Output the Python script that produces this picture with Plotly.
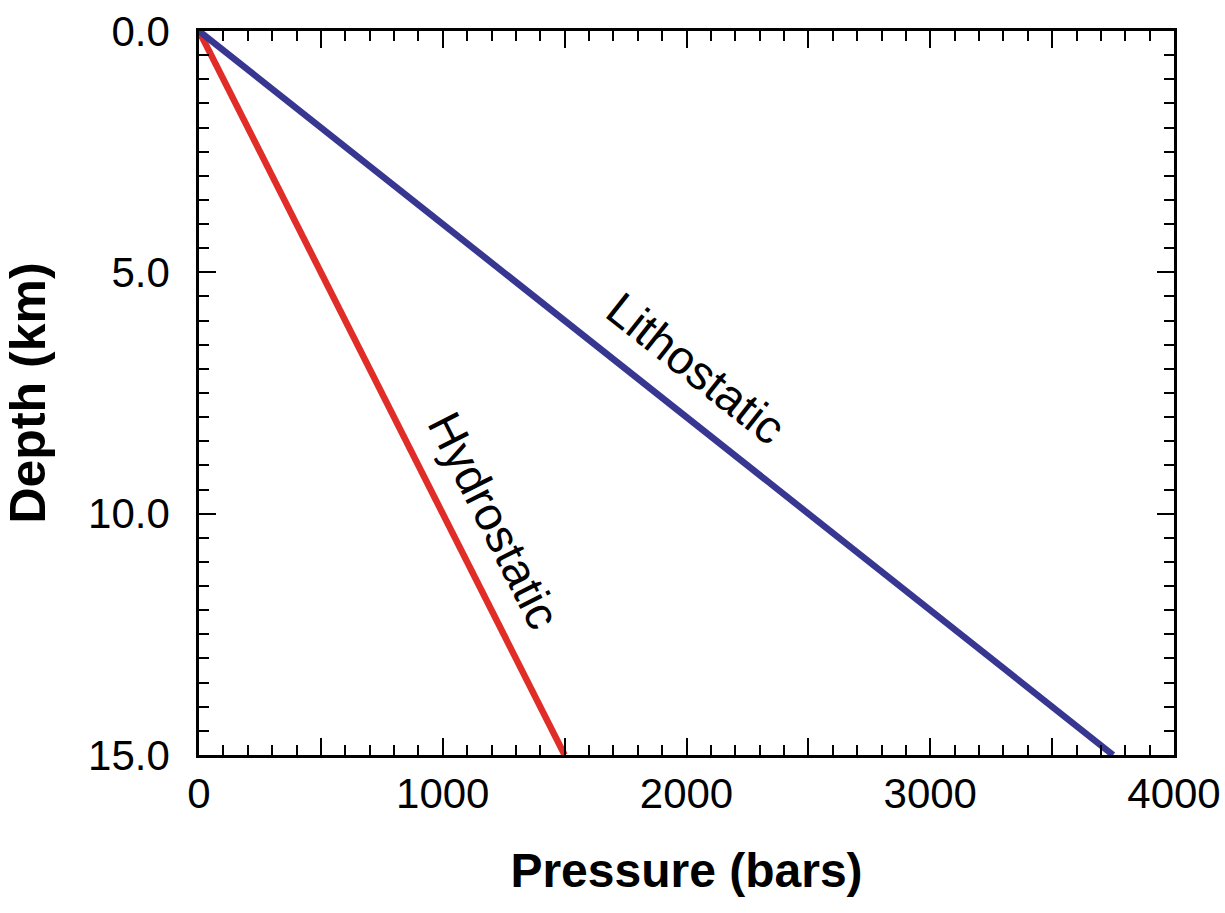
import plotly.graph_objects as go

# Data
depth_km = [0, 15]
hydrostatic_bars = [0, 1500]
lithostatic_bars = [0, 3750]

x_tickvals = [0, 500, 1000, 1500, 2000, 2500, 3000, 3500, 4000]
x_ticktext = ["0", "", "1000", "", "2000", "", "3000", "", "4000"]
y_tickvals = [0, 5, 10, 15]
y_ticktext = ["0.0", "5.0", "10.0", "15.0"]

FONT = "Liberation Sans, Arial, sans-serif"
BLUE = "rgb(55,55,145)"
RED = "rgb(225,45,40)"

fig = go.Figure()
fig.add_trace(go.Scatter(x=hydrostatic_bars, y=depth_km, mode="lines",
                         line=dict(color=RED, width=6.5), showlegend=False))
fig.add_trace(go.Scatter(x=lithostatic_bars, y=depth_km, mode="lines",
                         line=dict(color=BLUE, width=6.5), showlegend=False))

fig.add_annotation(x=2040, y=7.0, text="Lithostatic", showarrow=False,
                   textangle=38.4, font=dict(family=FONT, size=47, color="black"))
fig.add_annotation(x=1210, y=10.15, text="Hydrostatic", showarrow=False,
                   textangle=63.2, font=dict(family=FONT, size=47, color="black"))

axis_common = dict(
    showline=True, linecolor="black", linewidth=2.5, mirror="allticks",
    ticks="inside", tickcolor="black", tickwidth=2, ticklen=17,
    showgrid=False, zeroline=False,
    tickfont=dict(family=FONT, size=42, color="black"),
)

fig.update_xaxes(
    range=[0, 4000], tickmode="array", tickvals=x_tickvals, ticktext=x_ticktext,
    minor=dict(dtick=100, ticks="inside", ticklen=10, tickwidth=2, tickcolor="black", showgrid=False),
    title=dict(text="<b>Pressure (bars)</b>", font=dict(family=FONT, size=48, color="black"), standoff=38),
    ticklabelstandoff=0,
    **axis_common,
)
fig.update_yaxes(
    range=[15, 0], tickmode="array", tickvals=y_tickvals, ticktext=y_ticktext,
    minor=dict(dtick=0.5, ticks="inside", ticklen=10, tickwidth=2, tickcolor="black", showgrid=False),
    title=dict(text="<b>Depth (km)</b>", font=dict(family=FONT, size=50, color="black"), standoff=54),
    ticklabelstandoff=18,
    **axis_common,
)

fig.update_layout(
    width=1225, height=913,
    margin=dict(l=199, r=51, t=31, b=158, autoexpand=False),
    paper_bgcolor="white", plot_bgcolor="white",
)

fig.write_html("out.html", config={"displayModeBar": False},
               post_script="document.body.style.margin='0';document.body.style.padding='0';")
